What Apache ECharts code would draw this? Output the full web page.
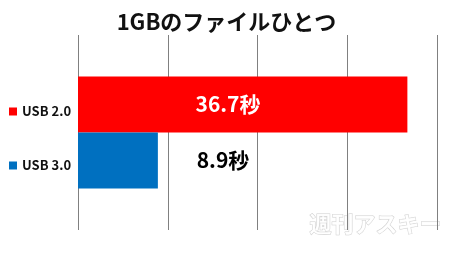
<!DOCTYPE html>
<html><head><meta charset="utf-8">
<script src="https://cdn.jsdelivr.net/npm/echarts@6/dist/echarts.min.js"></script>
<style>html,body{margin:0;padding:0;background:#fff}#c{width:453px;height:256px}</style>
</head><body><div id="c"></div>
<script>
var titleText = '1GBのファイルひとつ';
var categories = ['1GB'];
var seriesNames = ['USB 2.0', 'USB 3.0'];
var usb20 = [36.7];
var usb30 = [8.9];
var valueLabels = ['36.7秒', '8.9秒'];
var xTicks = [0, 10, 20, 30, 40];

var font = '"Noto Sans CJK JP", "Noto Sans", sans-serif';
var chart = echarts.init(document.getElementById('c'), null, {renderer: 'canvas'});
chart.setOption({
  animation: false,
  backgroundColor: '#fff',
  title: {
    text: titleText, left: 'center', top: 6,
    textStyle: {fontFamily: font, fontSize: 22, fontWeight: 'bold', color: '#111'}
  },
  legend: {
    orient: 'vertical', left: 4, top: 99,
    icon: 'rect', itemWidth: 8, itemHeight: 8, itemGap: 39,
    data: seriesNames,
    textStyle: {fontFamily: font, fontSize: 13, fontWeight: 'bold', color: '#111', lineHeight: 15}
  },
  grid: {left: 78, right: 16, top: 35, bottom: 26, containLabel: false},
  xAxis: {
    type: 'value', min: xTicks[0], max: xTicks[xTicks.length - 1], interval: 10,
    axisLabel: {show: false}, axisLine: {show: false}, axisTick: {show: false},
    splitLine: {show: true, lineStyle: {color: '#808080', width: 1}}
  },
  yAxis: {
    type: 'category', data: categories, inverse: true,
    axisLabel: {show: false}, axisLine: {show: false}, axisTick: {show: false}
  },
  graphic: [{
    type: 'text', left: 309, top: 212, silent: true,
    style: {text: '週刊アスキー', font: 'bold 22px ' + font, fill: 'rgba(255,255,255,0.9)', stroke: '#cfcfcf', lineWidth: 1}
  }],
  series: [{
    name: seriesNames[0], type: 'bar', data: usb20, barWidth: 56, barGap: '0%',
    itemStyle: {color: '#ff0000'},
    label: {show: true, position: [150, '50%'], align: 'center', verticalAlign: 'middle',
      formatter: function(){return valueLabels[0];},
      fontFamily: font, fontSize: 21, fontWeight: 'bold', color: '#fff'}
  }, {
    name: seriesNames[1], type: 'bar', data: usb30, barWidth: 56, barGap: '0%',
    itemStyle: {color: '#0070c0'},
    label: {show: true, position: [145, '50%'], align: 'center', verticalAlign: 'middle',
      formatter: function(){return valueLabels[1];},
      fontFamily: font, fontSize: 21, fontWeight: 'bold', color: '#000'}
  }]
});
</script></body></html>
